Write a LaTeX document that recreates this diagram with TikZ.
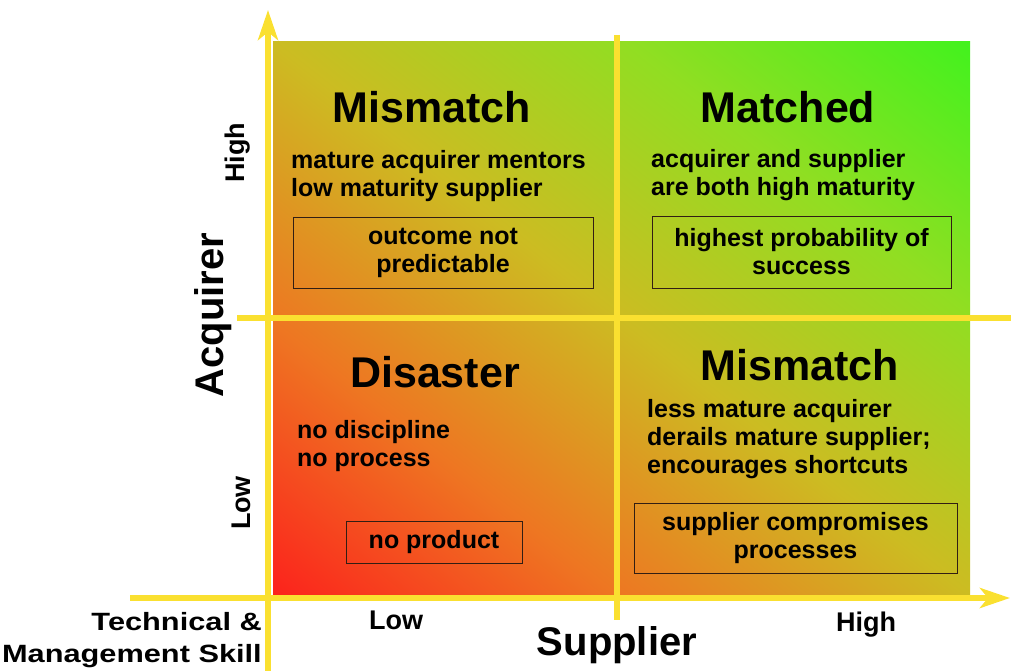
\documentclass[tikz,border=0pt]{standalone}
\usepackage{fontspec}
\setmainfont{Liberation Sans}
\newfontfamily\widefont[FakeStretch=1.23]{Liberation Sans}
\usetikzlibrary{arrows.meta}

\definecolor{axisyellow}{RGB}{250,224,48}
\definecolor{qred}{RGB}{252,34,28}
\definecolor{qorange}{RGB}{238,118,34}
\definecolor{qmid}{RGB}{204,188,34}
\definecolor{qlime}{RGB}{145,222,34}
\definecolor{qgreen}{RGB}{66,242,30}
\definecolor{boxline}{RGB}{50,30,20}

\pgfdeclarehorizontalshading{quadfade}{100bp}{color(0bp)=(qred); color(14.6bp)=(qred);
  color(32bp)=(qorange); color(50bp)=(qmid); color(68bp)=(qlime);
  color(85.4bp)=(qgreen); color(100bp)=(qgreen)}

\tikzset{
  axisline/.style={axisyellow,line width=6pt},
  axistip/.style={-{Stealth[length=30pt,width=20pt,inset=8pt]}},
  quadtitle/.style={font=\bfseries\fontsize{43}{46}\selectfont,inner sep=0pt},
  body/.style={font=\bfseries\fontsize{25}{28}\selectfont,align=left,anchor=west,inner sep=0pt},
  outcome/.style={draw=boxline,line width=1pt,font=\bfseries\fontsize{25}{28}\selectfont,
    align=center,inner sep=0pt},
  level/.style={font=\bfseries\fontsize{27}{30}\selectfont,inner sep=0pt},
  party/.style={font=\bfseries\fontsize{40}{44}\selectfont,inner sep=0pt},
}

\begin{document}
\begin{tikzpicture}[x=1pt,y=-1pt]
    \useasboundingbox(0,0)rectangle(1011,671);
    \shade[shading=quadfade,shading angle=51.6](273,42)rectangle(970,595);

    \coordinate(ybot)at(268,671);
    \coordinate(ytop)at(268,10);
    \coordinate(xleft)at(130,598);
    \coordinate(xright)at(1010,598);
    \coordinate(vtop)at(617,35);
    \coordinate(vbot)at(617,620);
    \coordinate(hleft)at(237,318);
    \coordinate(hright)at(1011,318);
    \draw[axisline](vtop)--(vbot);
    \draw[axisline](hleft)--(hright);
    \draw[axisline,axistip](ybot)--(ytop);
    \draw[axisline,axistip](xleft)--(xright);

    % quadrants
    \node[quadtitle](mmhigh)at(432,107){Mismatch};
    \node[body](mmhightxt)at(291,176){mature acquirer mentors\\low maturity supplier};
    \node[outcome,minimum width=300pt,minimum height=71pt](mmhighbox)at(443,252.5){outcome not\\predictable};

    \node[quadtitle](matched)at(788,107){Matched};
    \node[body](matchedtxt)at(651,175){acquirer and supplier\\are both high maturity};
    \node[outcome,minimum width=299pt,minimum height=72pt](matchedbox)at(801.5,252){highest probability of\\success};

    \node[quadtitle](disaster)at(435,372){Disaster};
    \node[body](disastertxt)at(297,446){no discipline\\no process};
    \node[outcome,minimum width=176pt,minimum height=42pt](disasterbox)at(434,542){no product};

    \node[quadtitle](mmlow)at(800,365){Mismatch};
    \node[body](mmlowtxt)at(647,439){less mature acquirer\\derails mature supplier;\\encourages shortcuts};
    \node[outcome,minimum width=323pt,minimum height=70pt](mmlowbox)at(795.5,538){supplier compromises\\processes};

    % axis labels
    \node[level,rotate=90](acqhigh)at(238,153){High};
    \node[level,rotate=90](acqlow)at(241,503){Low};
    \node[party,rotate=90](acquirer)at(213,315){Acquirer};
    \node[level](suplow)at(396,620){Low};
    \node[level](suphigh)at(866,625){High};
    \node[party](supplier)at(617,645){Supplier};
    \node[level,font=\bfseries\widefont\fontsize{25}{32}\selectfont,align=right,anchor=east](skill)at(262,640){Technical \&\\Management Skill};
\end{tikzpicture}
\end{document}
